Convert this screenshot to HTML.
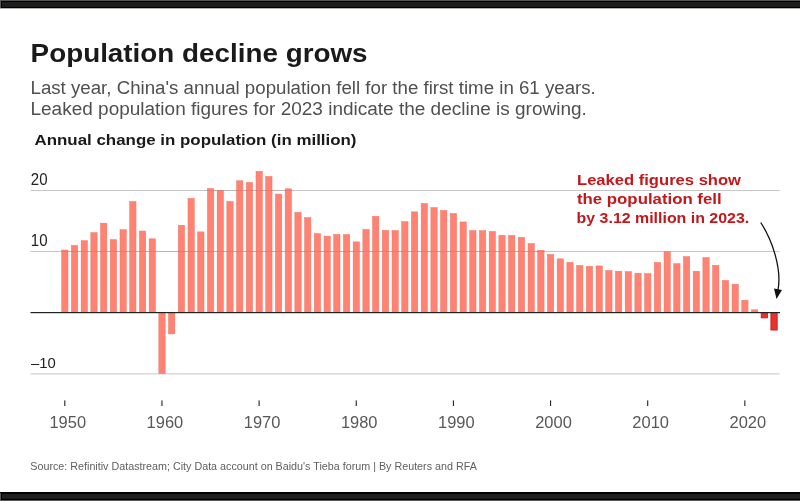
<!DOCTYPE html>
<html lang="en"><head><meta charset="utf-8"><title>Population decline grows</title>
<style>
html,body{margin:0;padding:0;background:#fff;}
body{width:800px;height:501px;overflow:hidden;font-family:"Liberation Sans",sans-serif;}
svg{display:block;}
text{font-family:"Liberation Sans",sans-serif;}
.b{fill:#ff8272;stroke:#ee7465;stroke-width:0.5;}
.r{fill:#e8332a;stroke:#c4161c;stroke-width:0.8;}
.g{stroke:#c6c6c6;stroke-width:1;}
.yr{font-size:16.5px;fill:#585858;}
.yl{fill:#222;}
</style></head><body>
<svg width="800" height="501" viewBox="0 0 800 501">
<rect x="0" y="0" width="800" height="501" fill="#fff"/>
<rect x="0" y="0" width="800" height="8.3" fill="#000"/>
<rect x="0" y="0" width="800" height="1" fill="#575757"/>
<rect x="2" y="2" width="798" height="5" fill="#1d1d1b"/>
<rect x="0" y="0" width="1" height="8" fill="#575757"/>
<rect x="0" y="492" width="800" height="9" fill="#000"/>
<rect x="2" y="494" width="798" height="4.8" fill="#1f1f1f"/>
<rect x="0" y="500" width="800" height="1" fill="#575757"/>
<rect x="0" y="493" width="1" height="8" fill="#575757"/>
<text x="30.6" y="62.2" font-size="26" font-weight="700" fill="#1a1a1a" textLength="337" lengthAdjust="spacingAndGlyphs">Population decline grows</text>
<text x="30.5" y="93.5" font-size="18" fill="#505050" textLength="565.3" lengthAdjust="spacingAndGlyphs">Last year, China's annual population fell for the first time in 61 years.</text>
<text x="30.5" y="114.7" font-size="18" fill="#505050" textLength="556.3" lengthAdjust="spacingAndGlyphs">Leaked population figures for 2023 indicate the decline is growing.</text>
<text x="34.5" y="145" font-size="15" font-weight="700" fill="#1a1a1a" textLength="322" lengthAdjust="spacingAndGlyphs">Annual change in population (in million)</text>
<line class="g" x1="30.5" x2="779.5" y1="190.5" y2="190.5"/>
<line class="g" x1="30.5" x2="779.5" y1="251.5" y2="251.5"/>
<line class="g" x1="30.5" x2="779.5" y1="373.9" y2="373.9"/>
<text class="yl" font-size="15.6" x="30.8" y="184.9" textLength="16.7" lengthAdjust="spacingAndGlyphs">20</text>
<text class="yl" font-size="15.6" x="30.8" y="245.8" textLength="16.7" lengthAdjust="spacingAndGlyphs">10</text>
<text class="yl" font-size="15.3" x="31" y="367.8" textLength="24.8" lengthAdjust="spacingAndGlyphs">–10</text>
<rect class="b" x="61.70" y="250.03" width="6.3" height="62.67"/>
<rect class="b" x="71.41" y="245.47" width="6.3" height="67.23"/>
<rect class="b" x="81.13" y="240.72" width="6.3" height="71.98"/>
<rect class="b" x="90.84" y="232.68" width="6.3" height="80.02"/>
<rect class="b" x="100.56" y="223.18" width="6.3" height="89.52"/>
<rect class="b" x="110.27" y="239.68" width="6.3" height="73.02"/>
<rect class="b" x="119.99" y="229.69" width="6.3" height="83.01"/>
<rect class="b" x="129.70" y="201.56" width="6.3" height="111.14"/>
<rect class="b" x="139.42" y="231.03" width="6.3" height="81.67"/>
<rect class="b" x="149.13" y="238.83" width="6.3" height="73.87"/>
<rect class="b" x="158.85" y="312.70" width="6.3" height="60.90"/>
<rect class="b" x="168.56" y="312.70" width="6.3" height="21.19"/>
<rect class="b" x="178.28" y="225.25" width="6.3" height="87.45"/>
<rect class="b" x="187.99" y="198.39" width="6.3" height="114.31"/>
<rect class="b" x="197.71" y="231.89" width="6.3" height="80.81"/>
<rect class="b" x="207.42" y="188.52" width="6.3" height="124.18"/>
<rect class="b" x="217.14" y="190.66" width="6.3" height="122.04"/>
<rect class="b" x="226.85" y="201.50" width="6.3" height="111.20"/>
<rect class="b" x="236.57" y="180.79" width="6.3" height="131.91"/>
<rect class="b" x="246.28" y="182.56" width="6.3" height="130.14"/>
<rect class="b" x="256.00" y="171.35" width="6.3" height="141.35"/>
<rect class="b" x="265.72" y="176.47" width="6.3" height="136.23"/>
<rect class="b" x="275.43" y="194.07" width="6.3" height="118.63"/>
<rect class="b" x="285.14" y="188.83" width="6.3" height="123.87"/>
<rect class="b" x="294.86" y="212.34" width="6.3" height="100.36"/>
<rect class="b" x="304.58" y="217.64" width="6.3" height="95.06"/>
<rect class="b" x="314.29" y="233.71" width="6.3" height="78.99"/>
<rect class="b" x="324.00" y="236.15" width="6.3" height="76.55"/>
<rect class="b" x="333.72" y="234.44" width="6.3" height="78.26"/>
<rect class="b" x="343.44" y="234.57" width="6.3" height="78.13"/>
<rect class="b" x="353.15" y="241.87" width="6.3" height="70.83"/>
<rect class="b" x="362.87" y="229.45" width="6.3" height="83.25"/>
<rect class="b" x="372.58" y="216.36" width="6.3" height="96.34"/>
<rect class="b" x="382.29" y="230.24" width="6.3" height="82.46"/>
<rect class="b" x="392.01" y="230.55" width="6.3" height="82.15"/>
<rect class="b" x="401.73" y="221.72" width="6.3" height="90.98"/>
<rect class="b" x="411.44" y="211.85" width="6.3" height="100.85"/>
<rect class="b" x="421.15" y="203.51" width="6.3" height="109.19"/>
<rect class="b" x="430.87" y="207.59" width="6.3" height="105.11"/>
<rect class="b" x="440.59" y="210.51" width="6.3" height="102.19"/>
<rect class="b" x="450.30" y="213.49" width="6.3" height="99.21"/>
<rect class="b" x="460.01" y="221.96" width="6.3" height="90.74"/>
<rect class="b" x="469.73" y="230.61" width="6.3" height="82.09"/>
<rect class="b" x="479.45" y="230.73" width="6.3" height="81.97"/>
<rect class="b" x="489.16" y="231.52" width="6.3" height="81.18"/>
<rect class="b" x="498.88" y="235.30" width="6.3" height="77.40"/>
<rect class="b" x="508.59" y="235.48" width="6.3" height="77.22"/>
<rect class="b" x="518.31" y="237.37" width="6.3" height="75.33"/>
<rect class="b" x="528.02" y="243.58" width="6.3" height="69.12"/>
<rect class="b" x="537.74" y="250.28" width="6.3" height="62.42"/>
<rect class="b" x="547.45" y="254.42" width="6.3" height="58.28"/>
<rect class="b" x="557.16" y="258.86" width="6.3" height="53.84"/>
<rect class="b" x="566.88" y="262.40" width="6.3" height="50.30"/>
<rect class="b" x="576.60" y="265.56" width="6.3" height="47.14"/>
<rect class="b" x="586.31" y="266.36" width="6.3" height="46.34"/>
<rect class="b" x="596.03" y="265.93" width="6.3" height="46.77"/>
<rect class="b" x="605.74" y="270.56" width="6.3" height="42.14"/>
<rect class="b" x="615.46" y="271.23" width="6.3" height="41.47"/>
<rect class="b" x="625.17" y="271.71" width="6.3" height="40.99"/>
<rect class="b" x="634.88" y="273.24" width="6.3" height="39.46"/>
<rect class="b" x="644.60" y="273.66" width="6.3" height="39.04"/>
<rect class="b" x="654.32" y="262.46" width="6.3" height="50.24"/>
<rect class="b" x="664.03" y="251.43" width="6.3" height="61.27"/>
<rect class="b" x="673.75" y="263.74" width="6.3" height="48.96"/>
<rect class="b" x="683.46" y="256.67" width="6.3" height="56.03"/>
<rect class="b" x="693.18" y="271.29" width="6.3" height="41.41"/>
<rect class="b" x="702.89" y="257.52" width="6.3" height="55.18"/>
<rect class="b" x="712.61" y="265.26" width="6.3" height="47.44"/>
<rect class="b" x="722.32" y="280.42" width="6.3" height="32.28"/>
<rect class="b" x="732.04" y="284.26" width="6.3" height="28.44"/>
<rect class="b" x="741.75" y="300.28" width="6.3" height="12.42"/>
<rect class="b" x="751.47" y="309.78" width="6.3" height="2.92"/>
<rect class="r" x="761.18" y="312.70" width="6.3" height="5.18"/>
<rect class="r" x="770.89" y="312.70" width="6.3" height="17.36"/>
<line x1="205" x2="293" y1="190.5" y2="190.5" stroke="#7a2a20" stroke-opacity="0.12" stroke-width="1"/>
<line x1="61" x2="545" y1="251.5" y2="251.5" stroke="#7a2a20" stroke-opacity="0.12" stroke-width="1"/>
<rect x="30.5" y="312" width="749.5" height="1.2" fill="#222"/>
<rect x="64.25" y="400.4" width="1.1" height="5.6" fill="#222"/>
<rect x="161.40" y="400.4" width="1.1" height="5.6" fill="#222"/>
<rect x="258.55" y="400.4" width="1.1" height="5.6" fill="#222"/>
<rect x="355.70" y="400.4" width="1.1" height="5.6" fill="#222"/>
<rect x="452.85" y="400.4" width="1.1" height="5.6" fill="#222"/>
<rect x="550.00" y="400.4" width="1.1" height="5.6" fill="#222"/>
<rect x="647.15" y="400.4" width="1.1" height="5.6" fill="#222"/>
<rect x="744.30" y="400.4" width="1.1" height="5.6" fill="#222"/>
<text class="yr" x="67.75" y="428" text-anchor="middle" textLength="36.6" lengthAdjust="spacingAndGlyphs">1950</text>
<text class="yr" x="164.90" y="428" text-anchor="middle" textLength="36.6" lengthAdjust="spacingAndGlyphs">1960</text>
<text class="yr" x="262.05" y="428" text-anchor="middle" textLength="36.6" lengthAdjust="spacingAndGlyphs">1970</text>
<text class="yr" x="359.20" y="428" text-anchor="middle" textLength="36.6" lengthAdjust="spacingAndGlyphs">1980</text>
<text class="yr" x="456.35" y="428" text-anchor="middle" textLength="36.6" lengthAdjust="spacingAndGlyphs">1990</text>
<text class="yr" x="553.50" y="428" text-anchor="middle" textLength="36.6" lengthAdjust="spacingAndGlyphs">2000</text>
<text class="yr" x="650.65" y="428" text-anchor="middle" textLength="36.6" lengthAdjust="spacingAndGlyphs">2010</text>
<text class="yr" x="747.80" y="428" text-anchor="middle" textLength="36.6" lengthAdjust="spacingAndGlyphs">2020</text>
<g font-size="15" font-weight="700" fill="#c4171b">
<text x="577" y="184.8" textLength="164" lengthAdjust="spacingAndGlyphs">Leaked figures show</text>
<text x="577" y="203.9" textLength="144.6" lengthAdjust="spacingAndGlyphs">the population fell</text>
<text x="576.6" y="223" textLength="172.6" lengthAdjust="spacingAndGlyphs">by 3.12 million in 2023.</text>
</g>
<path d="M760.7,222.5 C772,240 782,268 778,290" fill="none" stroke="#111" stroke-width="1.3"/>
<path d="M774,288.5 L782,290 L776.5,299 Z" fill="#111"/>
<text x="30.3" y="470.3" font-size="11.6" fill="#606060" textLength="446.5" lengthAdjust="spacingAndGlyphs">Source: Refinitiv Datastream; City Data account on Baidu's Tieba forum | By Reuters and RFA</text>
</svg>
</body></html>
